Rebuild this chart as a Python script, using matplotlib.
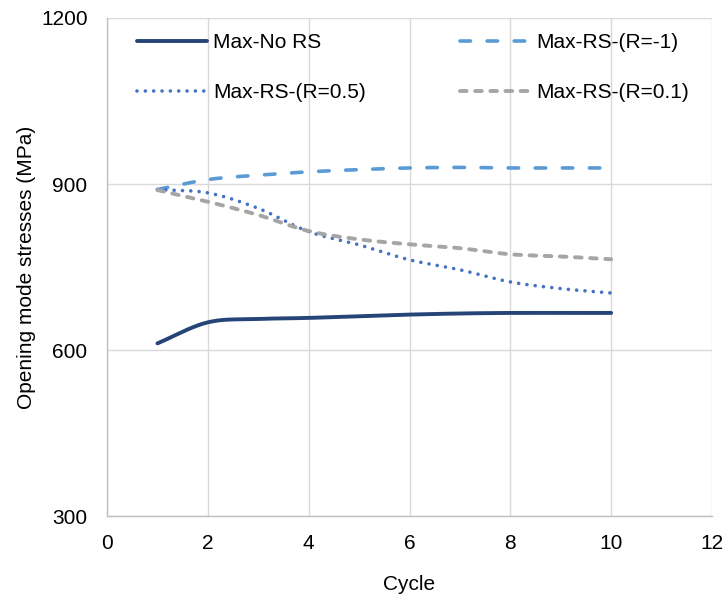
import matplotlib
matplotlib.use("Agg")
import matplotlib.pyplot as plt
import numpy as np

plt.rcParams["font.family"] = ["Liberation Sans", "DejaVu Sans"]

cycles = [1, 2, 3, 4, 5, 6, 7, 8, 9, 10]
max_no_rs = [612, 650, 656, 658, 661, 664, 666, 667, 667, 667]
max_rs_r_m1 = [890, 908, 916, 922, 926, 929, 930, 929, 929, 929]
max_rs_r05 = [890, 884, 856, 814, 790, 763, 745, 723, 711, 703]
max_rs_r01 = [889, 868, 844, 815, 800, 791, 784, 773, 769, 764]

series_labels = ["Max-No RS", "Max-RS-(R=-1)", "Max-RS-(R=0.5)", "Max-RS-(R=0.1)"]


def smooth(x, y, n=20):
    """Catmull-Rom curve through the points, like Excel's smoothed line."""
    x = np.asarray(x, float)
    y = np.asarray(y, float)
    px = np.concatenate([[2 * x[0] - x[1]], x, [2 * x[-1] - x[-2]]])
    py = np.concatenate([[2 * y[0] - y[1]], y, [2 * y[-1] - y[-2]]])
    xs, ys = [], []
    t = np.linspace(0, 1, n, endpoint=False)
    for i in range(1, len(px) - 2):
        for p, out in ((px, xs), (py, ys)):
            p0, p1, p2, p3 = p[i - 1], p[i], p[i + 1], p[i + 2]
            out.extend(0.5 * ((2 * p1) + (-p0 + p2) * t
                              + (2 * p0 - 5 * p1 + 4 * p2 - p3) * t ** 2
                              + (-p0 + 3 * p1 - 3 * p2 + p3) * t ** 3))
    xs.append(x[-1])
    ys.append(y[-1])
    return np.array(xs), np.array(ys)


fig = plt.figure(figsize=(7.28, 5.94), dpi=100)
ax = fig.add_axes([0.147, 0.1313, 0.831, 0.8384])

styles = [
    dict(color="#264478", lw=2.8, ls="-", solid_capstyle="round"),
    dict(color="#5B9BD5", lw=2.6, ls=(0, (2.9, 4.6)), dash_capstyle="round"),
    dict(color="#4472C4", lw=2.6, ls=(0, (0.01, 2.3)), dash_capstyle="round"),
    dict(color="#A5A5A5", lw=2.8, ls=(0, (1.7, 2.2)), dash_capstyle="round"),
]
handles = []
for vals, lab, st in zip([max_no_rs, max_rs_r_m1, max_rs_r05, max_rs_r01], series_labels, styles):
    sx, sy = smooth(cycles, vals)
    handles.append(ax.plot(sx, sy, label=lab, **st)[0])

ax.set_xlim(0, 12)
ax.set_ylim(300, 1200)
ax.set_xticks(range(0, 13, 2))
ax.set_yticks([300, 600, 900, 1200])
ax.grid(True, color="#D9D9D9", lw=1.0)
ax.set_axisbelow(True)
for s in ["top", "right"]:
    ax.spines[s].set_visible(False)
for s in ["left", "bottom"]:
    ax.spines[s].set_color("#BFBFBF")
    ax.spines[s].set_linewidth(1.0)
ax.tick_params(length=0, labelsize=15, colors="#000000")
ax.tick_params(axis="y", pad=14)
ax.tick_params(axis="x", pad=12.6)
ax.set_xlabel("Cycle", fontsize=15, labelpad=16.5)
ax.set_ylabel("Opening mode stresses (MPa)", fontsize=15, labelpad=3.5)

# Excel fills the legend row by row; matplotlib fills column by column
order = [0, 2, 1, 3]
ax.legend([handles[i] for i in order], [series_labels[i] for i in order],
          loc="upper left", bbox_to_anchor=(0.0496, 0.970), ncol=2, frameon=False,
          fontsize=15, handlelength=3.37, handletextpad=0.29, columnspacing=4.5,
          labelspacing=1.5, borderpad=0, borderaxespad=0)

fig.savefig("out.png", dpi=100)
